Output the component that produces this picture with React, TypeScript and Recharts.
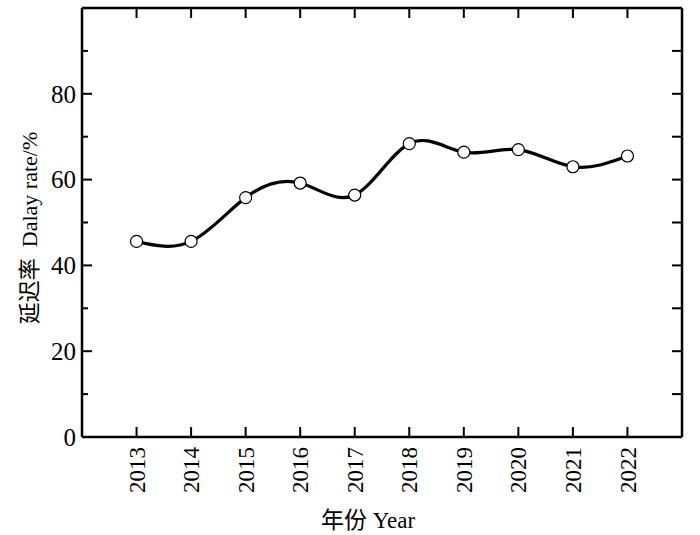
import React from "react";
import { LineChart, Line, XAxis, YAxis } from "recharts";

const years = [2013, 2014, 2015, 2016, 2017, 2018, 2019, 2020, 2021, 2022];
const delayRate = [45.6, 45.6, 55.8, 59.2, 56.4, 68.4, 66.4, 67.0, 63.0, 65.5];
const yTicks = [0, 10, 20, 30, 40, 50, 60, 70, 80, 90];

const data = years.map((year, i) => ({ year, rate: delayRate[i] }));

const W = 700;
const H = 535;
const PLOT_TOP = 8;
const PLOT_BOTTOM = 437;
const FONT = '"Liberation Serif", "Times New Roman", "Noto Sans CJK SC", serif';
const AXIS = { stroke: "#000", strokeWidth: 2.5 };

// bottom axis: inward tick + rotated year label
const BottomTick = (props: any) => {
  const { x, payload } = props;
  return (
    <g>
      <line x1={x} y1={PLOT_BOTTOM} x2={x} y2={PLOT_BOTTOM - 10} stroke="#000" strokeWidth={2} />
      <text
        transform={`translate(${x},${PLOT_BOTTOM + 10}) rotate(-90)`}
        textAnchor="end"
        dy="0.35em"
        fontSize={23}
        fontFamily={FONT}
        fill="#000"
      >
        {payload.value}
      </text>
    </g>
  );
};

const TopTick = (props: any) => {
  const { x } = props;
  return <line x1={x} y1={PLOT_TOP} x2={x} y2={PLOT_TOP + 10} stroke="#000" strokeWidth={2} />;
};

const LeftTick = (props: any) => {
  const { x, y, payload } = props;
  const major = payload.value % 20 === 0;
  return (
    <g>
      <line x1={x} y1={y} x2={x + (major ? 10 : 6)} y2={y} stroke="#000" strokeWidth={2} />
      {major && (
        <text x={x - 6} y={y} dy="0.35em" textAnchor="end" fontSize={25} fontFamily={FONT} fill="#000">
          {payload.value}
        </text>
      )}
    </g>
  );
};

const RightTick = (props: any) => {
  const { y } = props;
  return <line x1={W - 18} y1={y} x2={W - 28} y2={y} stroke="#000" strokeWidth={2} />;
};

export default function App() {
  return (
    <div style={{ position: "absolute", left: 0, top: 0, width: W, height: H, background: "#fff" }}>
      <LineChart width={W} height={H} data={data} margin={{ top: PLOT_TOP - 1, right: 17, left: 0, bottom: 0 }}>
        <XAxis
          dataKey="year"
          type="number"
          domain={[2012, 2023]}
          ticks={years}
          height={H - PLOT_BOTTOM}
          tickSize={0}
          tickMargin={0}
          tickLine={false}
          axisLine={AXIS}
          tick={<BottomTick />}
          interval={0}
        />
        <XAxis
          xAxisId="top"
          dataKey="year"
          orientation="top"
          type="number"
          domain={[2012, 2023]}
          ticks={years}
          height={1}
          tickSize={0}
          tickMargin={0}
          tickLine={false}
          axisLine={AXIS}
          tick={<TopTick />}
          interval={0}
        />
        <YAxis
          type="number"
          domain={[0, 100]}
          ticks={yTicks}
          width={82}
          tickSize={0}
          tickMargin={0}
          tickLine={false}
          axisLine={AXIS}
          tick={<LeftTick />}
          interval={0}
        />
        <YAxis
          yAxisId="right"
          orientation="right"
          type="number"
          domain={[0, 100]}
          ticks={yTicks}
          width={1}
          tickSize={0}
          tickMargin={0}
          tickLine={false}
          axisLine={AXIS}
          tick={<RightTick />}
          interval={0}
        />
        {/* invisible series so the frame axes (top/right) get drawn */}
        <Line
          xAxisId="top"
          yAxisId="right"
          dataKey="rate"
          stroke="none"
          dot={false}
          activeDot={false}
          legendType="none"
          isAnimationActive={false}
        />
        <Line
          dataKey="rate"
          type="natural"
          stroke="#000"
          strokeWidth={3.2}
          dot={{ r: 6, fill: "#fff", stroke: "#000", strokeWidth: 1.2 }}
          activeDot={false}
          isAnimationActive={false}
        />
      </LineChart>
      <div
        style={{
          position: "absolute",
          left: 368,
          top: 518,
          transform: "translate(-50%, -50%)",
          fontFamily: FONT,
          fontSize: 23,
          whiteSpace: "nowrap",
          color: "#000",
        }}
      >
        年份 Year
      </div>
      <div
        style={{
          position: "absolute",
          left: 27,
          top: 228,
          transform: "translate(-50%, -50%) rotate(-90deg)",
          fontFamily: FONT,
          fontSize: 22,
          whiteSpace: "nowrap",
          color: "#000",
        }}
      >
        延迟率&nbsp;&nbsp;Dalay rate/%
      </div>
    </div>
  );
}
